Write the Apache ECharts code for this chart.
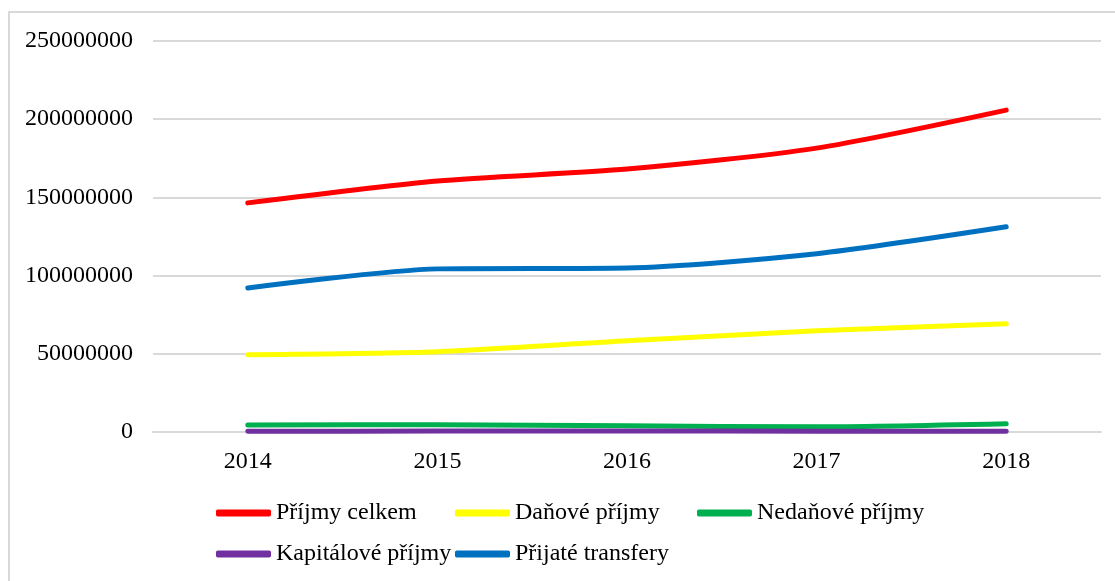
<!DOCTYPE html>
<html>
<head>
<meta charset="utf-8">
<style>
  html, body { margin: 0; padding: 0; background: #fff; }
  #chart-container { width: 1115px; height: 581px; }
</style>
<script src="https://cdn.jsdelivr.net/npm/echarts@6/dist/echarts.min.js"></script>
</head>
<body>
<div id="chart-container"></div>
<script>
'use strict';

const years = ['2014', '2015', '2016', '2017', '2018'];
const names = ['Příjmy celkem', 'Daňové příjmy', 'Nedaňové příjmy', 'Kapitálové příjmy', 'Přijaté transfery'];
const colors = ['#ff0000', '#ffff00', '#00b050', '#7030a0', '#0070c0'];

const prijmyCelkem = [146500000, 160500000, 168100000, 181500000, 205800000];
const danovePrijmy = [49400000, 51300000, 58300000, 64700000, 69200000];
const nedanovePrijmy = [4500000, 4600000, 4000000, 3300000, 5300000];
const kapitalovePrijmy = [500000, 600000, 700000, 500000, 400000];
const prijateTransfery = [92100000, 104300000, 104900000, 114000000, 131200000];

const values = [prijmyCelkem, danovePrijmy, nedanovePrijmy, kapitalovePrijmy, prijateTransfery];

const font = '"Liberation Serif", "Times New Roman", serif';

// legend columns, Excel-like fixed positions
const legendPos = [
    { left: 216, top: 501 },
    { left: 455, top: 501 },
    { left: 697, top: 501 },
    { left: 216, top: 542 },
    { left: 455, top: 542 }
];

const myChart = echarts.init(document.getElementById('chart-container'), null, { renderer: 'canvas' });

const option = {
    backgroundColor: '#fff',
    animation: false,
    graphic: [{
        type: 'rect',
        shape: { x: 9, y: 12, width: 1120, height: 600 },
        style: { fill: 'none', stroke: '#d9d9d9', lineWidth: 2 },
        silent: true
    }],
    legend: names.map((n, i) => ({
        data: [n],
        left: legendPos[i].left,
        top: legendPos[i].top,
        padding: 0,
        itemWidth: 55,
        itemHeight: 7,
        icon: 'roundRect',
        textStyle: { fontFamily: font, fontSize: 24, color: '#000' }
    })),
    grid: {
        left: 153,
        right: 14,
        top: 41,
        bottom: 149
    },
    xAxis: {
        type: 'category',
        data: years,
        boundaryGap: true,
        axisLine: { lineStyle: { color: '#d9d9d9', width: 2 } },
        axisTick: { show: false },
        axisLabel: { fontFamily: font, fontSize: 24, color: '#000', margin: 18 }
    },
    yAxis: {
        type: 'value',
        min: 0,
        max: 250000000,
        interval: 50000000,
        axisLine: { show: false },
        axisTick: { show: false },
        splitLine: { lineStyle: { color: '#d9d9d9', width: 2 } },
        axisLabel: {
            fontFamily: font, fontSize: 24, color: '#000', margin: 20,
            formatter: (v) => String(v)
        }
    },
    series: names.map((n, i) => ({
        name: n,
        type: 'line',
        data: values[i],
        smooth: 0.25,
        showSymbol: false,
        symbol: 'none',
        color: colors[i],
        lineStyle: { width: 5, color: colors[i], cap: 'round' }
    }))
};

myChart.setOption(option);
window.addEventListener('resize', myChart.resize);
</script>
</body>
</html>
